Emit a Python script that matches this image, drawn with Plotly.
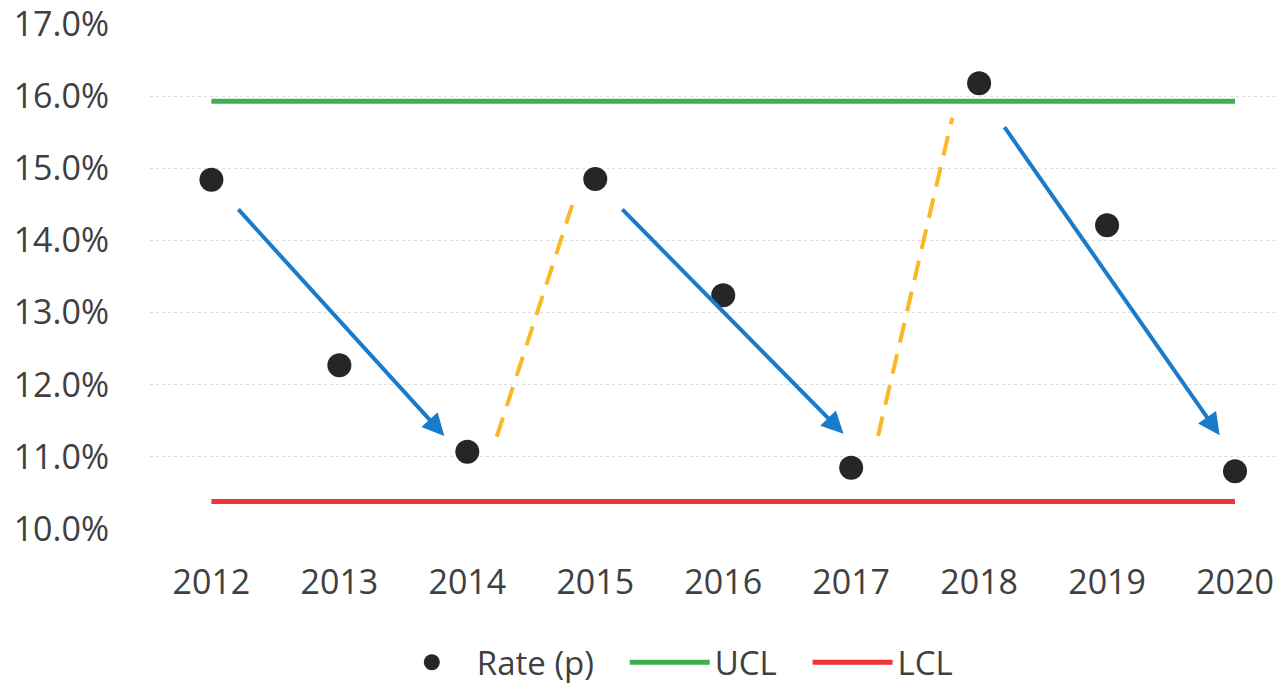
import plotly.graph_objects as go

years = [2012, 2013, 2014, 2015, 2016, 2017, 2018, 2019, 2020]
rate = [14.84, 12.27, 11.07, 14.85, 13.24, 10.85, 16.18, 14.21, 10.80]
ucl = [15.93] * len(years)
lcl = [10.38] * len(years)
y_ticks = [10, 11, 12, 13, 14, 15, 16, 17]
y_tick_labels = ["10.0%", "11.0%", "12.0%", "13.0%", "14.0%", "15.0%", "16.0%", "17.0%"]

# downward trend arrows (tail -> head)
down_x0 = [2012.2, 2015.2, 2018.19]
down_y0 = [14.45, 14.45, 15.59]
down_x1 = [2013.82, 2016.94, 2019.88]
down_y1 = [11.29, 11.32, 11.30]
# upward dashed segments
up_x0 = [2014.23, 2017.21]
up_y0 = [11.28, 11.29]
up_x1 = [2014.82, 2017.79]
up_y1 = [14.49, 15.70]

FONT = "Open Sans"
TXT = "#404040"
GAP = "\u00a0" * 3

fig = go.Figure()
fig.add_trace(go.Scatter(x=years, y=rate, mode="markers", name="Rate (p)" + GAP,
                         marker=dict(color="#262626", size=24)))
fig.add_trace(go.Scatter(x=years, y=ucl, mode="lines", name="UCL" + GAP,
                         line=dict(color="#3daf4f", width=5)))
fig.add_trace(go.Scatter(x=years, y=lcl, mode="lines", name="LCL",
                         line=dict(color="#f2343a", width=5)))

for i in range(len(up_x0)):
    fig.add_trace(go.Scatter(x=[up_x0[i], up_x1[i]], y=[up_y0[i], up_y1[i]], mode="lines",
                             line=dict(color="#f7b925", width=4, dash="20px,12px"),
                             showlegend=False, hoverinfo="skip"))

for i in range(len(down_x0)):
    fig.add_annotation(x=down_x1[i], y=down_y1[i], ax=down_x0[i], ay=down_y0[i],
                       xref="x", yref="y", axref="x", ayref="y",
                       showarrow=True, arrowhead=2, arrowsize=1.1, arrowwidth=4,
                       arrowcolor="#1b7bcb", text="")

fig.update_layout(
    width=1275, height=679,
    margin=dict(l=142, r=0, t=16, b=158, autoexpand=False),
    plot_bgcolor="white", paper_bgcolor="white",
    font=dict(family=FONT, size=34, color=TXT),
    legend=dict(orientation="h", x=0.461, xanchor="center", y=-0.264, yanchor="middle",
                font=dict(family=FONT, size=33, color=TXT), itemwidth=80,
                bgcolor="rgba(0,0,0,0)"),
    showlegend=True,
)
fig.update_xaxes(range=[2011.52, 2020.375], tickvals=years, ticktext=[str(y) for y in years],
                 showgrid=False, zeroline=False, showline=False, ticks="", automargin=False,
                 ticklabelstandoff=30, ticklabeloverflow="allow",
                 tickfont=dict(family=FONT, size=34, color=TXT))
fig.update_yaxes(range=[10, 17], tickvals=y_ticks, ticktext=y_tick_labels,
                 showgrid=True, gridcolor="#dedede", griddash="dot", gridwidth=1,
                 zeroline=False, showline=False, ticks="", automargin=False,
                 ticklabelstandoff=40, ticklabeloverflow="allow",
                 tickfont=dict(family=FONT, size=34, color=TXT))

fig.write_html("out.html")
